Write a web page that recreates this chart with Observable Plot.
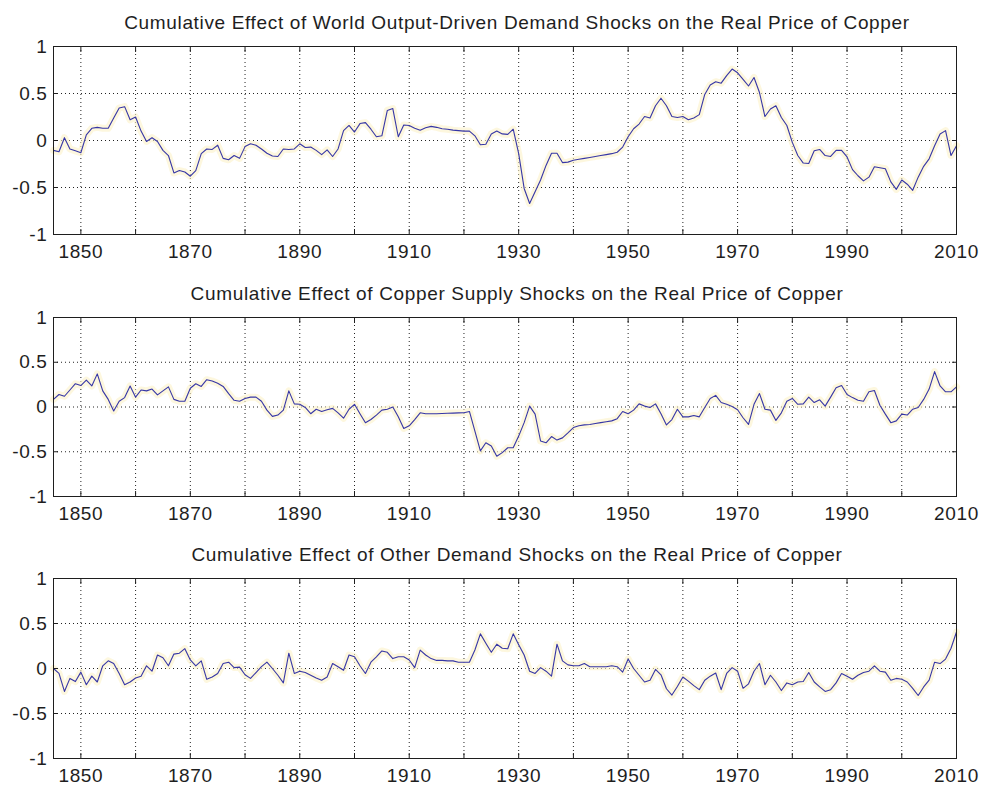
<!DOCTYPE html>
<html><head><meta charset="utf-8">
<script src="https://cdn.jsdelivr.net/npm/d3@7"></script>
<script src="https://cdn.jsdelivr.net/npm/@observablehq/plot@0.6"></script>
<style>
body{margin:0;background:#fff;}
#chart{width:981px;height:787px;}
#chart svg{display:block;}
</style></head><body><div id="chart"></div>
<script>
const firstYear = 1845;

const worldDemand = [
 -0.105, -0.12, 0.03, -0.09, -0.11, -0.13, 0.06, 0.13, 0.14, 0.13,
 0.13, 0.24, 0.345, 0.36, 0.22, 0.25, 0.1, -0.01, 0.03, -0.01,
 -0.105, -0.16, -0.345, -0.32, -0.335, -0.38, -0.32, -0.14, -0.09, -0.095,
 -0.05, -0.19, -0.205, -0.16, -0.19, -0.065, -0.035, -0.05, -0.09, -0.135,
 -0.165, -0.17, -0.09, -0.095, -0.09, -0.035, -0.075, -0.07, -0.105, -0.15,
 -0.1, -0.17, -0.09, 0.105, 0.16, 0.09, 0.18, 0.19, 0.12, 0.04,
 0.05, 0.32, 0.34, 0.04, 0.165, 0.16, 0.13, 0.11, 0.135, 0.15,
 0.14, 0.125, 0.12, 0.11, 0.105, 0.1, 0.1, 0.05, -0.045, -0.04,
 0.07, 0.1, 0.07, 0.065, 0.12, -0.14, -0.51, -0.67, -0.545, -0.42,
 -0.265, -0.135, -0.135, -0.235, -0.23, -0.21, -0.2, -0.19, -0.18, -0.17,
 -0.16, -0.15, -0.14, -0.125, -0.07, 0.04, 0.125, 0.175, 0.255, 0.24,
 0.37, 0.45, 0.37, 0.255, 0.245, 0.255, 0.22, 0.24, 0.275, 0.49,
 0.59, 0.625, 0.61, 0.69, 0.76, 0.72, 0.65, 0.58, 0.67, 0.51,
 0.255, 0.335, 0.37, 0.245, 0.16, -0.02, -0.16, -0.24, -0.245, -0.11,
 -0.095, -0.16, -0.17, -0.105, -0.105, -0.175, -0.31, -0.375, -0.43, -0.39,
 -0.28, -0.29, -0.3, -0.44, -0.52, -0.42, -0.465, -0.53, -0.39, -0.275,
 -0.195, -0.055, 0.07, 0.105, -0.16, -0.055
];

const copperSupply = [
 0.085, 0.14, 0.12, 0.19, 0.26, 0.24, 0.3, 0.235, 0.37, 0.18,
 0.085, -0.045, 0.065, 0.105, 0.235, 0.11, 0.19, 0.18, 0.2, 0.135,
 0.18, 0.225, 0.085, 0.065, 0.065, 0.21, 0.26, 0.23, 0.305, 0.29,
 0.265, 0.23, 0.15, 0.075, 0.065, 0.095, 0.11, 0.11, 0.065, -0.035,
 -0.105, -0.09, -0.035, 0.18, 0.035, 0.03, -0.005, -0.075, -0.025, -0.05,
 -0.03, -0.015, -0.065, -0.125, -0.025, 0.03, -0.075, -0.175, -0.14, -0.09,
 -0.035, -0.025, 0, -0.11, -0.24, -0.21, -0.14, -0.065, -0.075, -0.075,
 -0.075, -0.072, -0.07, -0.068, -0.066, -0.065, -0.05, -0.27, -0.49, -0.4,
 -0.435, -0.55, -0.51, -0.455, -0.455, -0.325, -0.175, 0.01, -0.08, -0.38,
 -0.4, -0.33, -0.37, -0.345, -0.29, -0.23, -0.21, -0.2, -0.195, -0.185,
 -0.175, -0.165, -0.155, -0.13, -0.05, -0.075, -0.035, 0.035, 0.01, -0.005,
 0.035, -0.075, -0.2, -0.14, -0.025, -0.11, -0.11, -0.095, -0.11, -0.005,
 0.095, 0.13, 0.05, 0.03, 0.005, -0.03, -0.12, -0.195, 0.03, 0.15,
 -0.025, -0.035, -0.15, -0.065, 0.065, 0.095, 0.03, 0.035, 0.11, 0.05,
 0.08, 0.01, 0.11, 0.215, 0.24, 0.14, 0.105, 0.075, 0.065, 0.17,
 0.185, 0.02, -0.08, -0.175, -0.155, -0.08, -0.09, -0.025, -0.005, 0.085,
 0.2, 0.395, 0.235, 0.17, 0.17, 0.225
];

const otherDemand = [
 0, -0.055, -0.255, -0.11, -0.145, -0.04, -0.18, -0.085, -0.15, 0.03,
 0.085, 0.055, -0.055, -0.18, -0.15, -0.105, -0.085, 0.03, -0.03, 0.15,
 0.12, 0.03, 0.16, 0.17, 0.22, 0.095, 0.03, 0.085, -0.12, -0.095,
 -0.055, 0.055, 0.07, 0.01, 0.015, -0.07, -0.11, -0.045, 0.02, 0.07,
 0, -0.075, -0.16, 0.17, -0.055, -0.03, -0.045, -0.075, -0.105, -0.13,
 -0.095, 0.055, 0.02, -0.02, 0.15, 0.13, 0.03, -0.055, 0.07, 0.13,
 0.195, 0.18, 0.11, 0.13, 0.13, 0.095, 0.01, 0.205, 0.15, 0.11,
 0.09, 0.09, 0.085, 0.085, 0.07, 0.07, 0.07, 0.205, 0.385, 0.28,
 0.18, 0.27, 0.225, 0.22, 0.385, 0.265, 0.15, -0.03, -0.055, 0.01,
 -0.03, -0.085, 0.27, 0.085, 0.04, 0.03, 0.03, 0.055, 0.02, 0.02,
 0.02, 0.02, 0.03, 0.02, -0.04, 0.105, 0, -0.075, -0.15, -0.13,
 -0.01, -0.07, -0.225, -0.295, -0.2, -0.095, -0.14, -0.19, -0.235, -0.13,
 -0.085, -0.05, -0.235, -0.055, 0.01, -0.03, -0.22, -0.17, -0.03, 0.055,
 -0.18, -0.075, -0.15, -0.245, -0.16, -0.18, -0.15, -0.145, -0.045, -0.15,
 -0.205, -0.255, -0.235, -0.16, -0.055, -0.085, -0.12, -0.075, -0.045, -0.03,
 0.03, -0.03, -0.04, -0.13, -0.11, -0.12, -0.15, -0.22, -0.3, -0.205,
 -0.13, 0.07, 0.055, 0.105, 0.225, 0.405
];

const titles = [
 "Cumulative Effect of World Output-Driven Demand Shocks on the Real Price of Copper",
 "Cumulative Effect of Copper Supply Shocks on the Real Price of Copper",
 "Cumulative Effect of Other Demand Shocks on the Real Price of Copper"
];
const labelYears = [1850, 1870, 1890, 1910, 1930, 1950, 1970, 1990, 2010];
const gridYears = [1850, 1860, 1870, 1880, 1890, 1900, 1910, 1920, 1930, 1940, 1950, 1960, 1970, 1980, 1990, 2000, 2010];
const yTicks = [-1, -0.5, 0, 0.5, 1];
const yGrid = [-0.5, 0, 0.5];

const panels = [
 {title: titles[0], values: worldDemand, height: 262, marginTop: 46, marginBottom: 28},
 {title: titles[1], values: copperSupply, height: 263, marginTop: 55, marginBottom: 29},
 {title: titles[2], values: otherDemand, height: 262, marginTop: 53, marginBottom: 29}
];

const FS = 19;
const lineColor = "#3636a6";
const container = document.getElementById("chart");

for (const p of panels) {
  const data = p.values.map((v, i) => ({year: firstYear + i, value: v}));
  const chart = Plot.plot({
    width: 981,
    height: p.height,
    marginLeft: 53,
    marginRight: 25,
    marginTop: p.marginTop,
    marginBottom: p.marginBottom,
    style: {fontFamily: "'Liberation Sans', Arial, sans-serif", fontSize: FS + "px", letterSpacing: "0.65px", color: "#1e1e1e", background: "#fff", overflow: "visible"},
    x: {domain: [1845, 2010]},
    y: {domain: [-1, 1]},
    marks: [
      Plot.gridX(gridYears, {stroke: "#222", strokeOpacity: 1, strokeDasharray: "1,3"}),
      Plot.gridY(yGrid, {stroke: "#222", strokeOpacity: 1, strokeDasharray: "1,3"}),
      Plot.line(data, {x: "year", y: "value", stroke: "#fbf1c8", strokeWidth: 7, strokeOpacity: 0.6}),
      Plot.line(data, {x: "year", y: "value", stroke: lineColor, strokeWidth: 1.1}),
      Plot.axisX({ticks: gridYears, anchor: "bottom", tickSize: -5, fill: "none", label: null}),
      Plot.axisX({ticks: gridYears, anchor: "top", tickSize: -5, fill: "none", label: null}),
      Plot.axisY({ticks: yTicks, anchor: "left", tickSize: -5, fill: "none", label: null}),
      Plot.axisY({ticks: yTicks, anchor: "right", tickSize: -5, fill: "none", label: null}),
      Plot.axisX({ticks: labelYears, anchor: "bottom", tickSize: 0, tickPadding: 10, tickFormat: d => String(d), fontSize: FS, label: null}),
      Plot.axisY({ticks: yTicks, anchor: "left", tickSize: 0, tickPadding: 6, tickFormat: d => String(d), fontSize: FS, label: null}),
      Plot.frame({stroke: "#1e1e1e"}),
      Plot.text([p.title], {text: d => d, frameAnchor: "top", lineAnchor: "middle", dy: -24, dx: 12, fontSize: FS})
    ]
  });
  container.appendChild(chart);
}
</script></body></html>
